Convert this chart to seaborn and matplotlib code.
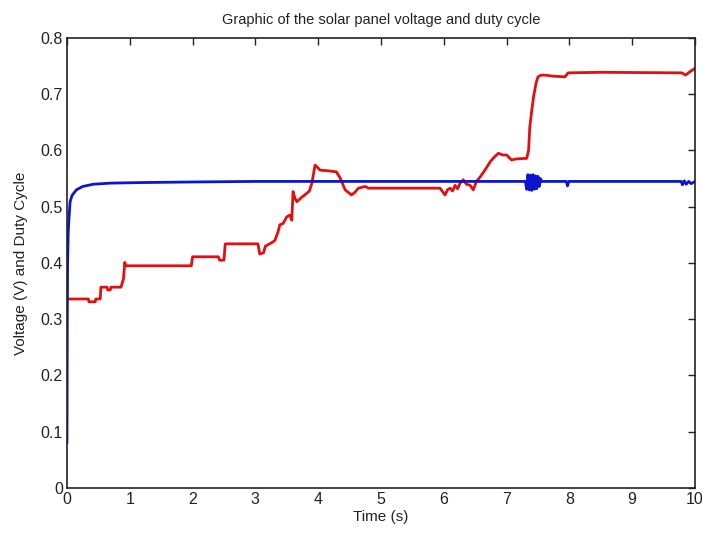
import numpy as np
import pandas as pd
import matplotlib
matplotlib.use("Agg")
import matplotlib.pyplot as plt
import seaborn as sns

# ----- duty cycle (red) -----
duty_t = [0.00, 0.34, 0.35, 0.45, 0.46, 0.53, 0.54, 0.64, 0.65, 0.69, 0.70, 0.86, 0.90, 0.92, 0.94,
          1.98, 2.00, 2.41, 2.43, 2.50, 2.52, 3.04, 3.07, 3.13, 3.16, 3.26, 3.31, 3.36, 3.39, 3.44,
          3.50, 3.55, 3.58, 3.60, 3.63, 3.66, 3.74, 3.82, 3.86, 3.90, 3.95, 3.98, 4.03, 4.15, 4.29,
          4.35, 4.43, 4.53, 4.58, 4.64, 4.75, 4.80, 5.94, 6.02, 6.06, 6.10, 6.14, 6.18, 6.22, 6.26,
          6.31, 6.36, 6.42, 6.47, 6.52, 6.58, 6.66, 6.74, 6.80, 6.87, 6.94, 7.00, 7.08, 7.15, 7.32,
          7.35, 7.37, 7.40, 7.43, 7.47, 7.50, 7.55, 7.61, 7.75, 7.93, 7.98, 8.50, 9.79, 9.85, 9.92,
          10.00]
duty_v = [0.336, 0.336, 0.331, 0.331, 0.336, 0.336, 0.357, 0.357, 0.352, 0.352, 0.357, 0.357, 0.372, 0.401, 0.395,
          0.395, 0.411, 0.411, 0.405, 0.405, 0.434, 0.434, 0.416, 0.418, 0.430, 0.436, 0.440, 0.455, 0.468, 0.470,
          0.482, 0.485, 0.476, 0.527, 0.515, 0.509, 0.517, 0.524, 0.528, 0.542, 0.574, 0.571, 0.565, 0.564, 0.562,
          0.551, 0.530, 0.521, 0.525, 0.533, 0.536, 0.533, 0.533, 0.521, 0.530, 0.533, 0.528, 0.538, 0.532, 0.542,
          0.548, 0.540, 0.538, 0.530, 0.545, 0.553, 0.566, 0.580, 0.588, 0.595, 0.592, 0.592, 0.583, 0.585, 0.586,
          0.600, 0.642, 0.670, 0.696, 0.720, 0.731, 0.734, 0.734, 0.732, 0.731, 0.738, 0.739, 0.738, 0.734, 0.740,
          0.746]

# ----- panel voltage (blue) -----
volt_t = [0.00, 0.005, 0.01, 0.02, 0.03, 0.05, 0.08, 0.15, 0.25, 0.42, 0.70, 1.20, 2.00, 3.00, 4.00,
          5.00, 6.00, 7.00, 7.30, 7.32, 7.34, 7.36, 7.38, 7.40, 7.42, 7.44, 7.46, 7.48, 7.50, 7.52,
          7.54, 7.56, 7.60, 7.95, 7.97, 7.99, 8.01, 9.00, 9.78, 9.80, 9.83, 9.86, 9.90, 9.94, 10.00]
volt_v = [0.080, 0.300, 0.400, 0.455, 0.476, 0.509, 0.520, 0.530, 0.536, 0.540, 0.542, 0.543, 0.544, 0.545, 0.545,
          0.545, 0.545, 0.545, 0.545, 0.531, 0.557, 0.530, 0.556, 0.529, 0.557, 0.531, 0.555, 0.532, 0.554, 0.536,
          0.550, 0.545, 0.545, 0.545, 0.537, 0.545, 0.545, 0.545, 0.545, 0.539, 0.546, 0.540, 0.545, 0.541, 0.545]

title_text = "Graphic of the solar panel voltage and duty cycle"
x_label = "Time (s)"
y_label = "Voltage (V) and Duty Cycle"
x_ticks = list(range(0, 11))
y_ticks = [0, 0.1, 0.2, 0.3, 0.4, 0.5, 0.6, 0.7, 0.8]
y_tick_labels = ["0", "0.1", "0.2", "0.3", "0.4", "0.5", "0.6", "0.7", "0.8"]


def main():
    sns.set_style("white")
    plt.rcParams["font.family"] = ["Liberation Sans", "DejaVu Sans"]

    duty = pd.DataFrame({"t": duty_t, "v": duty_v})
    volt = pd.DataFrame({"t": volt_t, "v": volt_v})

    fig = plt.figure(figsize=(7.02, 5.35), dpi=100)
    ax = fig.add_axes([0.0954, 0.0879, 0.8946, 0.8411])

    sns.lineplot(data=duty, x="t", y="v", ax=ax, color="#e01010", linewidth=2.0, sort=False)
    sns.lineplot(data=volt, x="t", y="v", ax=ax, color="#0a14d2", linewidth=2.0, sort=False)

    ax.set_xlim(0, 10)
    ax.set_ylim(0, 0.8)
    ax.set_xticks(x_ticks)
    ax.set_yticks(y_ticks)
    ax.set_yticklabels(y_tick_labels)
    ax.tick_params(direction="in", length=5, width=1, top=True, right=True,
                   labelsize=11.5, colors="#222222", pad=3)
    for s in ax.spines.values():
        s.set_color("#222222")
        s.set_linewidth(1.2)

    ax.set_xlabel(x_label, fontsize=11, color="#222222", labelpad=2)
    ax.set_ylabel(y_label, fontsize=11, color="#222222", labelpad=9)
    ax.set_title(title_text, fontsize=10.5, color="#222222", pad=10)

    fig.savefig("out.png", dpi=100)


if __name__ == "__main__":
    main()
